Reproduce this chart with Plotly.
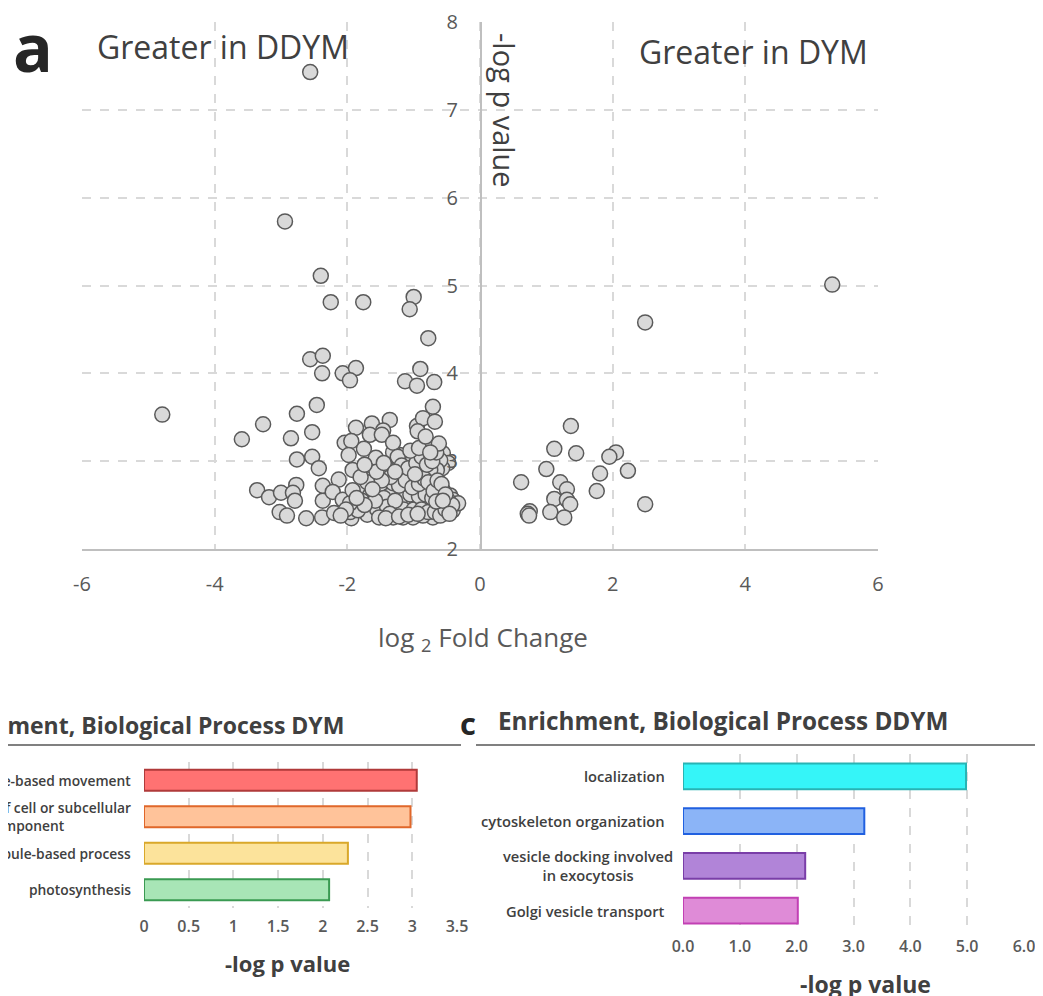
import plotly.graph_objects as go

W, H = 1043, 996
OFF = 8  # the page body adds an 8 px offset; reference pixel positions are shifted by it

# ---------------- Panel a: volcano data (log2 fold change, -log p) ----------------
ddym_points = [
    (-2.56, 7.43), (-2.94, 5.73), (-2.40, 5.11), (-2.25, 4.81), (-1.76, 4.81), (-1.00, 4.87),
    (-1.06, 4.73), (-0.78, 4.40), (-2.56, 4.16), (-2.37, 4.20), (-2.38, 4.00), (-2.07, 4.00),
    (-1.87, 4.06), (-1.96, 3.92), (-0.90, 4.05), (-1.13, 3.91), (-0.95, 3.86), (-0.69, 3.90),
    (-4.79, 3.53), (-3.59, 3.25), (-3.27, 3.42), (-2.76, 3.54), (-2.46, 3.64), (-2.85, 3.26),
    (-2.53, 3.33), (-2.76, 3.02), (-2.53, 3.05), (-2.43, 2.92), (-3.36, 2.67), (-3.18, 2.59),
    (-3.00, 2.64), (-2.77, 2.73), (-2.82, 2.64), (-2.79, 2.55), (-3.02, 2.42), (-2.91, 2.38),
    (-2.62, 2.35), (-2.38, 2.36), (-2.37, 2.55), (-2.37, 2.72), (-2.13, 2.79), (-2.22, 2.65),
    (-2.20, 2.41), (-2.07, 2.56), (-1.94, 2.35), (-1.96, 2.42),
    (-1.87, 3.38), (-1.63, 3.43), (-1.36, 3.47), (-2.04, 3.21), (-1.94, 3.23), (-1.66, 3.30),
    (-1.46, 3.35), (-1.75, 3.14), (-1.98, 3.07), (-1.57, 3.04), (-1.92, 2.90),
    (-0.95, 3.40), (-0.86, 3.49), (-0.71, 3.62), (-0.68, 3.45), (-0.94, 3.34), (-0.78, 3.18),
    (-0.56, 3.09), (-0.48, 2.98), (-0.57, 2.92),
    (-1.31, 3.01), (-1.21, 3.07), (-1.40, 2.92), (-1.25, 2.82), (-1.01, 3.01), (-0.86, 2.90),
    (-0.71, 2.82), (-1.06, 2.75), (-1.69, 2.79), (-1.81, 2.67), (-1.66, 2.61), (-1.51, 2.67),
    (-1.36, 2.61), (-1.16, 2.67), (-0.90, 2.67), (-0.75, 2.70), (-0.56, 2.67), (-0.45, 2.61),
    (-0.35, 2.52), (-0.41, 2.44), (-0.56, 2.41), (-0.71, 2.36), (-0.86, 2.38), (-1.01, 2.36),
    (-1.16, 2.36), (-1.31, 2.36), (-1.46, 2.41), (-1.61, 2.41), (-1.70, 2.39), (-1.84, 2.44),
    (-1.51, 2.52), (-1.31, 2.50), (-1.10, 2.52), (-0.95, 2.53), (-0.80, 2.52), (-0.65, 2.48),
    (-0.50, 2.52), (-1.31, 2.75), (-1.10, 2.82), (-1.01, 2.90), (-0.60, 3.01), (-0.65, 2.90),
    (-1.31, 3.10), (-1.96, 2.52), (-1.92, 2.67), (-1.78, 2.55),
    (-1.48, 3.30), (-1.31, 3.21), (-1.24, 3.05), (-1.70, 2.76), (-0.95, 2.79), (-0.75, 2.90),
    (-0.41, 2.56), (-0.33, 2.52),
    (-1.55, 2.45), (-1.45, 2.58), (-1.40, 2.48), (-1.25, 2.42), (-1.20, 2.58), (-1.15, 2.45),
    (-1.05, 2.62), (-1.00, 2.45), (-0.92, 2.60), (-0.88, 2.45), (-0.82, 2.62), (-0.78, 2.42),
    (-0.72, 2.58), (-0.68, 2.42), (-0.62, 2.58), (-0.60, 2.38), (-0.52, 2.45), (-0.48, 2.55),
    (-0.42, 2.50), (-1.22, 2.72), (-1.12, 2.78), (-1.02, 2.70), (-0.92, 2.74), (-0.84, 2.80),
    (-0.78, 2.76), (-0.70, 2.66), (-0.64, 2.78), (-0.58, 2.74), (-0.52, 2.62), (-1.35, 2.82),
    (-1.48, 2.78), (-1.56, 2.88), (-1.45, 2.98), (-1.18, 2.95), (-1.08, 2.92), (-0.96, 2.98),
    (-0.88, 3.05), (-0.80, 2.96), (-0.72, 3.00), (-0.66, 3.10), (-0.62, 3.20), (-1.28, 2.55),
    (-1.36, 2.40), (-1.58, 2.55), (-1.62, 2.68), (-1.74, 2.50), (-1.86, 2.58), (-2.02, 2.45),
    (-2.10, 2.38), (-1.52, 2.36), (-1.42, 2.35), (-1.22, 2.37), (-1.08, 2.39), (-0.94, 2.40),
    (-0.66, 2.54), (-0.56, 2.55), (-0.46, 2.40), (-0.98, 2.85), (-1.28, 2.88), (-1.80, 2.82),
    (-1.74, 2.96), (-1.05, 3.12), (-0.92, 3.15), (-0.82, 3.28), (-0.75, 3.10),
]
dym_points = [
    (1.37, 3.40), (1.12, 3.14), (1.45, 3.09), (2.05, 3.10), (1.95, 3.05), (1.00, 2.91),
    (1.81, 2.86), (2.23, 2.89), (0.62, 2.76), (1.21, 2.76), (1.31, 2.68), (1.76, 2.66),
    (1.12, 2.57), (1.31, 2.56), (1.36, 2.51), (2.49, 2.51), (0.75, 2.43), (0.72, 2.40),
    (1.06, 2.42), (1.27, 2.36), (0.74, 2.38), (2.49, 4.58), (5.31, 5.01),
]
volcano_x_ticks = [-6, -4, -2, 0, 2, 4, 6]
volcano_y_ticks = [2, 3, 4, 5, 6, 7, 8]

# ---------------- Panel b: enrichment DYM ----------------
dym_terms = ["microtubule-based movement",
             "movement of cell or subcellular component",
             "microtubule-based process",
             "photosynthesis"]
dym_labels = ["microtubule-based movement",
              "movement of cell or subcellular<br>component",
              "microtubule-based process",
              "photosynthesis"]
dym_values = [3.05, 2.98, 2.28, 2.07]
dym_fill = ["#ff7272", "#ffc39a", "#fce39b", "#a8e5b6"]
dym_edge = ["#b03a3a", "#e0672a", "#d9a82a", "#3a9a52"]
dym_ticks = [0, 0.5, 1, 1.5, 2, 2.5, 3, 3.5]
dym_ticktext = ["0", "0.5", "1", "1.5", "2", "2.5", "3", "3.5"]

# ---------------- Panel c: enrichment DDYM ----------------
ddym_terms = ["localization",
              "cytoskeleton organization",
              "vesicle docking involved in exocytosis",
              "Golgi vesicle transport"]
ddym_labels = ["localization",
               "cytoskeleton organization",
               "vesicle docking involved<br>in exocytosis",
               "Golgi vesicle transport"]
ddym_values = [4.98, 3.19, 2.15, 2.02]
ddym_fill = ["#35f5f8", "#8bb4f7", "#b184d8", "#df8bd7"]
ddym_edge = ["#28b4b4", "#2060e0", "#7a3ea8", "#c240b4"]
ddym_ticks = [0, 1, 2, 3, 4, 5, 6]
ddym_ticktext = ["0.0", "1.0", "2.0", "3.0", "4.0", "5.0", "6.0"]

FONT = "Open Sans"
GRID = "#d9d9d9"


def px(v):
    return (v - OFF) / W


def py(v):
    return 1 - (v - OFF) / H


fig = go.Figure()

allpts = ddym_points + dym_points
fig.add_trace(go.Scatter(
    x=[p[0] for p in allpts], y=[p[1] for p in allpts], mode="markers",
    marker=dict(size=15, color="#d9d9d9", line=dict(color="#5a5a5a", width=1.5)),
    xaxis="x", yaxis="y", showlegend=False, cliponaxis=False, hoverinfo="skip"))

fig.add_trace(go.Bar(
    x=dym_values, y=dym_terms, orientation="h", width=0.58,
    marker=dict(color=dym_fill, line=dict(color=dym_edge, width=2)),
    xaxis="x2", yaxis="y2", showlegend=False))

fig.add_trace(go.Bar(
    x=ddym_values, y=ddym_terms, orientation="h", width=0.58,
    marker=dict(color=ddym_fill, line=dict(color=ddym_edge, width=2)),
    xaxis="x3", yaxis="y3", showlegend=False))

grid_kw = dict(showgrid=True, gridcolor=GRID, griddash="dash", gridwidth=1.5,
               zeroline=False, automargin=False)

fig.update_layout(
    width=W, height=H, margin=dict(l=0, r=0, t=0, b=0, pad=0, autoexpand=False),
    paper_bgcolor="white", plot_bgcolor="white",
    font=dict(family=FONT, color="#595959"),
    xaxis=dict(domain=[px(82), px(878)], range=[-6, 6], anchor="y",
               tickmode="array", tickvals=volcano_x_ticks,
               ticktext=[str(v) for v in volcano_x_ticks],
               showline=True, linecolor="#bfbfbf", linewidth=2, ticks="",
               ticklabelstandoff=16, tickfont=dict(size=20, color="#595959"), **grid_kw),
    yaxis=dict(domain=[py(549), py(22)], range=[2, 8], anchor="free", position=px(481),
               tickmode="array", tickvals=volcano_y_ticks,
               showline=True, linecolor="#bfbfbf", linewidth=2, ticks="",
               ticklabelstandoff=18, tickfont=dict(size=20, color="#595959"), **grid_kw),
    xaxis2=dict(domain=[px(144), px(457)], range=[0, 3.5], anchor="y2",
                tickmode="array", tickvals=dym_ticks, ticktext=dym_ticktext,
                showline=False, ticks="", ticklabelstandoff=7,
                tickfont=dict(size=16, color="#595959", weight=600), **grid_kw),
    yaxis2=dict(domain=[py(908), py(762)], type="category", range=[3.5, -0.5],
                anchor="x2", showticklabels=False, showgrid=False, zeroline=False,
                automargin=False),
    xaxis3=dict(domain=[px(683), px(1024)], range=[0, 6], anchor="y3",
                tickmode="array", tickvals=ddym_ticks, ticktext=ddym_ticktext,
                showline=False, ticks="", ticklabelstandoff=2,
                tickfont=dict(size=16, color="#595959", weight=600), **grid_kw),
    yaxis3=dict(domain=[py(933), py(754)], type="category", range=[3.5, -0.5],
                anchor="x3", showticklabels=False, showgrid=False, zeroline=False,
                automargin=False),
)

ann = []


def add_text(text, x, y, size, color="#404040", xanchor="center", yanchor="middle",
             weight="normal", angle=0, xref="paper", yref="paper", align="center"):
    ann.append(dict(text=text, x=x, y=y, xref=xref, yref=yref, xanchor=xanchor,
                    yanchor=yanchor, showarrow=False, textangle=angle, align=align,
                    font=dict(family=FONT, size=size, color=color, weight=weight)))


# Panel a texts
add_text("a", px(11), py(46), 66, color="#262626", xanchor="left", weight="bold")
add_text("Greater in DDYM", px(95), py(46), 32, xanchor="left")
add_text("Greater in DYM", px(870), py(52), 32, xanchor="right")
add_text("-log p value", px(504), py(110), 29, angle=90)
add_text("log <sub>2</sub> Fold Change", px(483), py(638), 26, color="#595959")

# Panel b texts
add_text("Enrichment, Biological Process DYM", px(346), py(725), 23, xanchor="right",
         weight="bold")
add_text("-log p value", px(287), py(963), 22, weight="bold")
for lab, term in zip(dym_labels, dym_terms):
    add_text(lab, px(133), term, 13.8, xanchor="right", weight=600, yref="y2")

# Panel c texts
add_text("c", px(458), py(723), 31, color="#262626", xanchor="left", weight="bold")
add_text("Enrichment, Biological Process DDYM", px(496), py(720), 24.3, xanchor="left",
         weight="bold")
add_text("-log p value", px(865), py(984), 23, weight="bold")
for lab, term in zip(ddym_labels, ddym_terms):
    xr = 675 if "<br>" in lab else 667
    add_text(lab, px(xr), term, 14.7, xanchor="right", weight=600, yref="y3")

fig.update_layout(annotations=ann)

fig.update_layout(shapes=[
    dict(type="line", xref="paper", yref="paper", x0=px(0), x1=px(461), y0=py(745),
         y1=py(745), line=dict(color="#808080", width=2)),
    dict(type="line", xref="paper", yref="paper", x0=px(476), x1=px(1043), y0=py(745),
         y1=py(745), line=dict(color="#808080", width=2)),
])

fig.write_html("out.html")
